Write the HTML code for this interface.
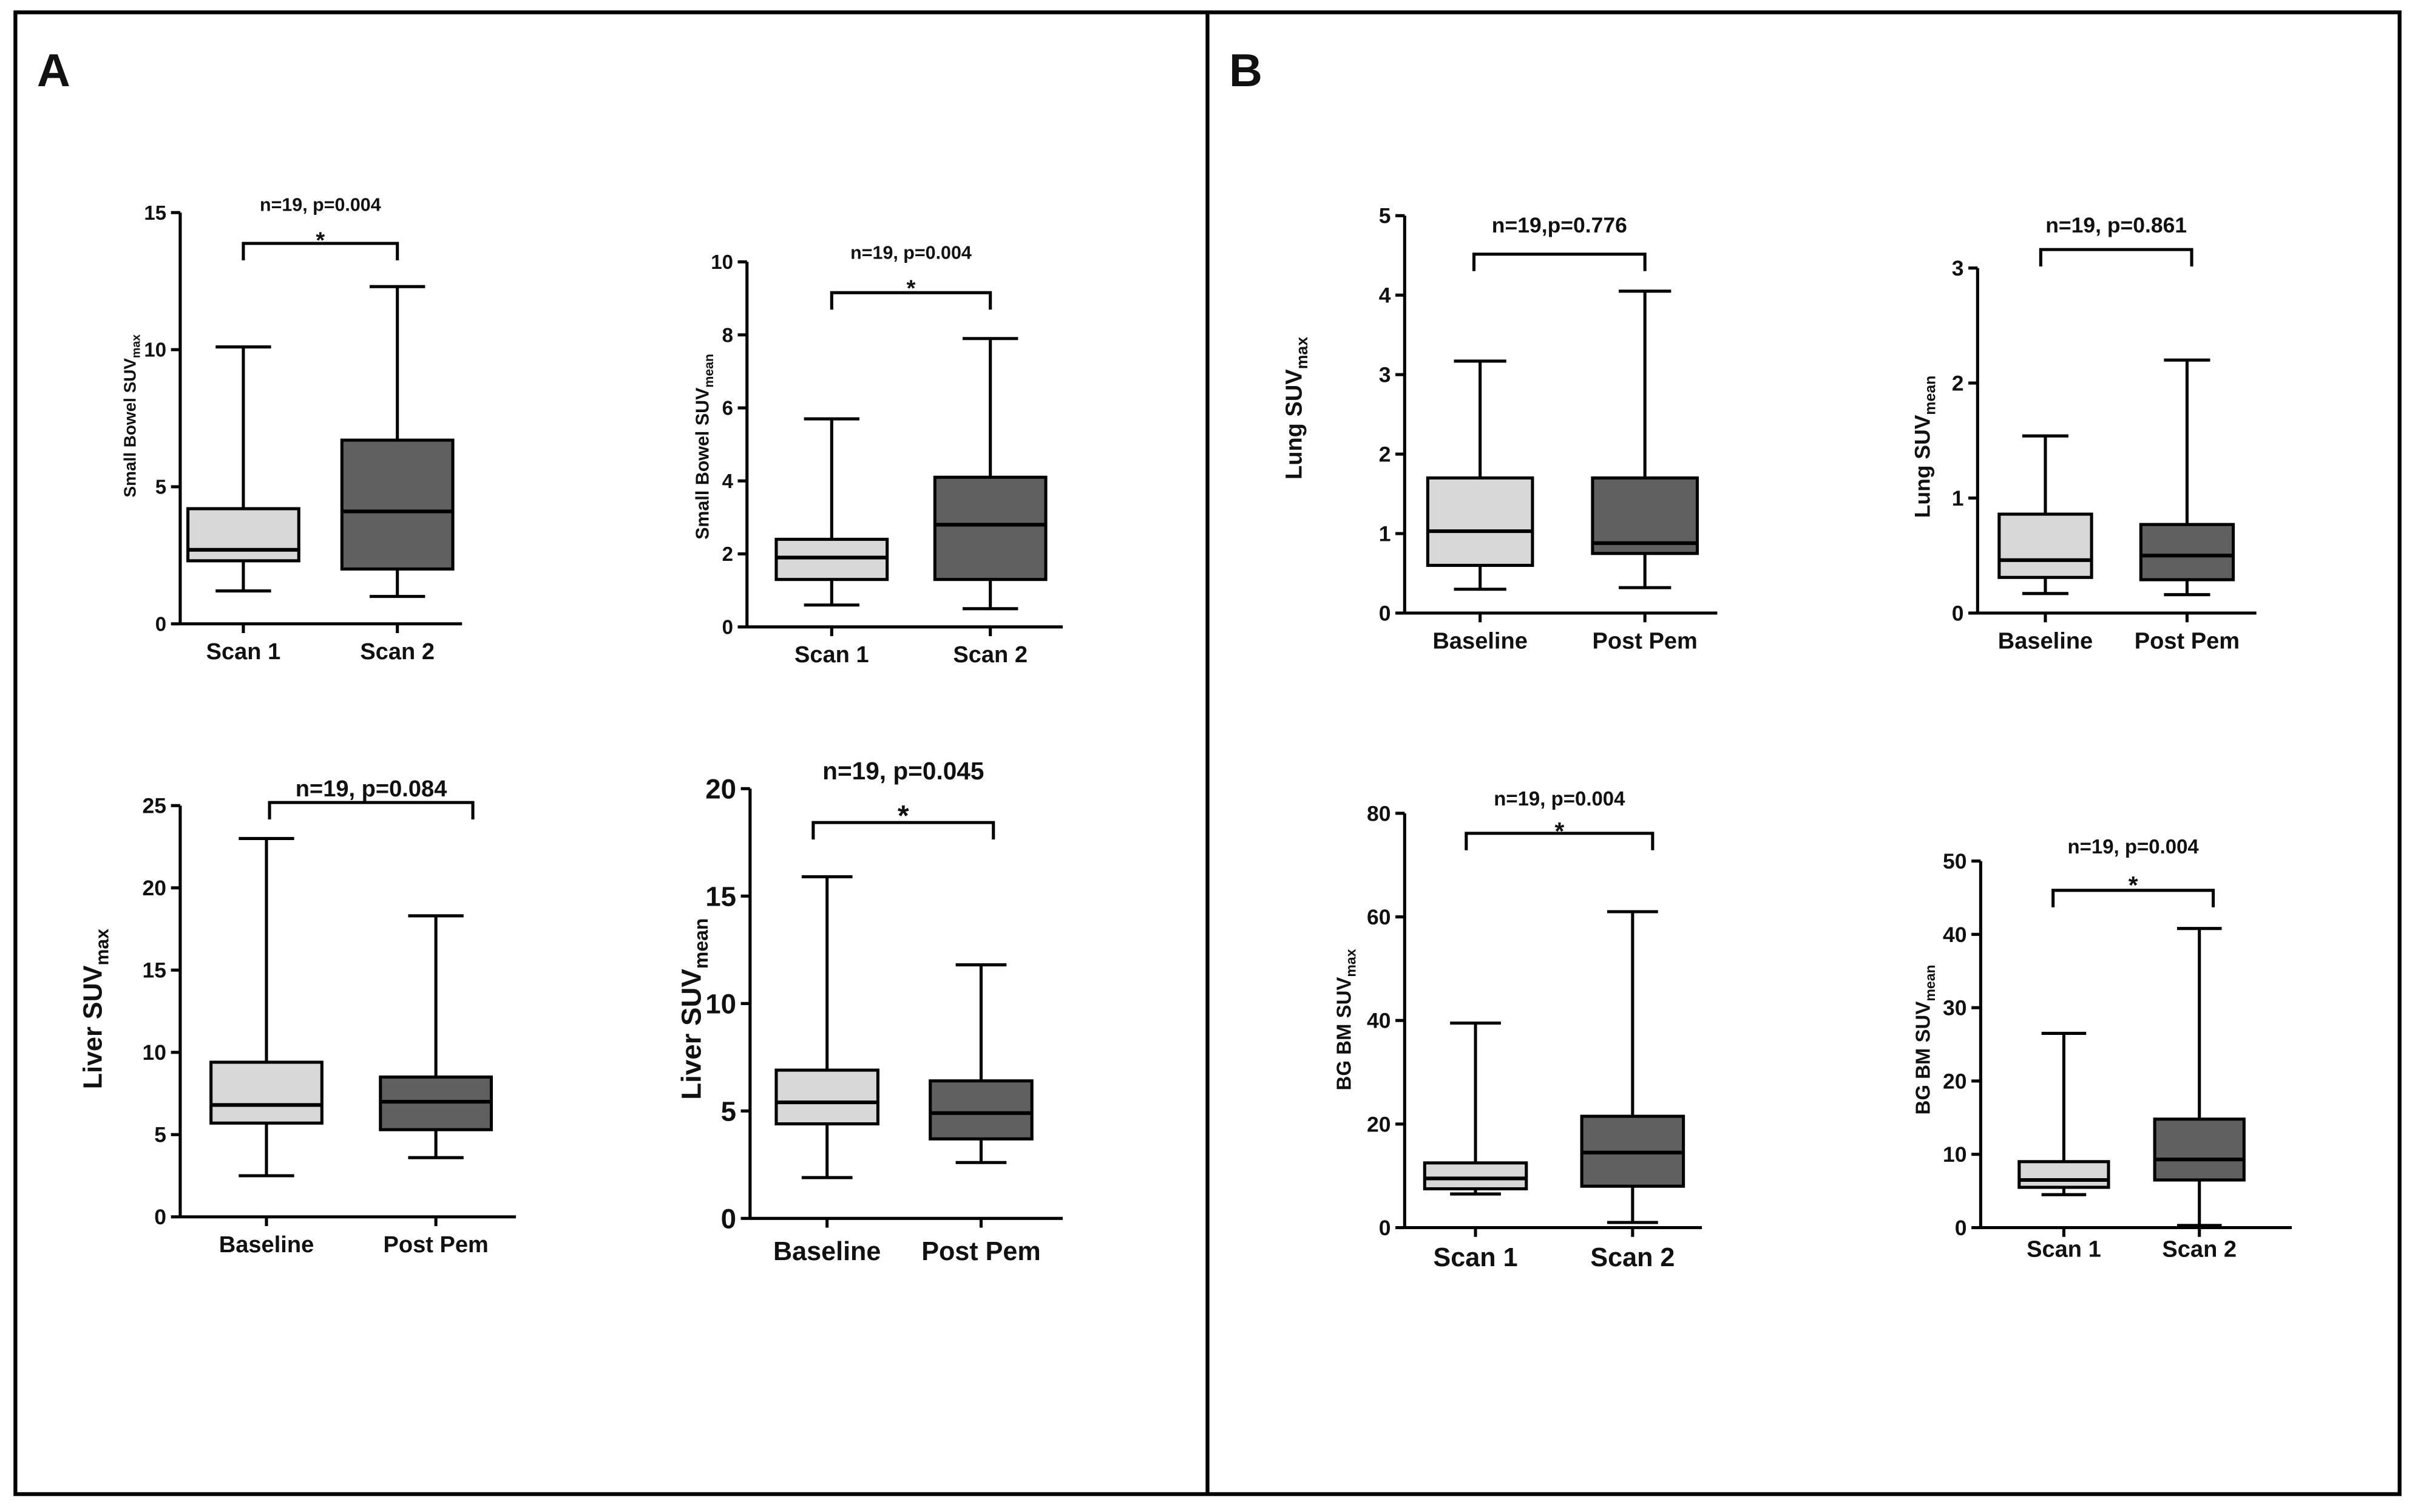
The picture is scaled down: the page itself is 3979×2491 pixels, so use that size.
<!DOCTYPE html>
<html><head><meta charset="utf-8">
<style>
html,body{margin:0;padding:0;background:#fff;}
svg{display:block;}
text{font-family:"Liberation Sans",sans-serif;font-weight:bold;fill:#111;}
</style></head>
<body>
<svg id="fig" width="3979" height="2491" viewBox="0 0 1568 981.6" xmlns="http://www.w3.org/2000/svg">
<rect x="10" y="8" width="1548" height="962" fill="none" stroke="#000" stroke-width="2.5"/>
<line x1="784" y1="8" x2="784" y2="970" stroke="#000" stroke-width="2.5"/>
<text x="24" y="56" font-size="30">A</text>
<text x="798" y="56" font-size="30">B</text>
</svg>
<script>
// ---- data ----
const chartNames = ["small-bowel-suvmax","small-bowel-suvmean","liver-suvmax","liver-suvmean","lung-suvmax","lung-suvmean","bgbm-suvmax","bgbm-suvmean"];
const yTitles = ["Small Bowel SUV|max","Small Bowel SUV|mean","Liver SUV|max","Liver SUV|mean","Lung SUV|max","Lung SUV|mean","BG BM SUV|max","BG BM SUV|mean"];
const categories = [["Scan 1","Scan 2"],["Scan 1","Scan 2"],["Baseline","Post Pem"],["Baseline","Post Pem"],["Baseline","Post Pem"],["Baseline","Post Pem"],["Scan 1","Scan 2"],["Scan 1","Scan 2"]];
const yTicks = [[0,5,10,15],[0,2,4,6,8,10],[0,5,10,15,20,25],[0,5,10,15,20],[0,1,2,3,4,5],[0,1,2,3],[0,20,40,60,80],[0,10,20,30,40,50]];
// [min,q1,median,q3,max] per group
const group1Stats = [[1.2,2.3,2.7,4.2,10.1],[0.6,1.3,1.9,2.4,5.7],[2.5,5.7,6.8,9.4,23],[1.9,4.4,5.4,6.9,15.9],[0.3,0.6,1.03,1.7,3.17],[0.17,0.31,0.46,0.86,1.54],[6.5,7.5,9.5,12.5,39.5],[4.5,5.5,6.5,9,26.5]];
const group2Stats = [[1.0,2.0,4.1,6.7,12.3],[0.5,1.3,2.8,4.1,7.9],[3.6,5.3,7.0,8.5,18.3],[2.6,3.7,4.9,6.4,11.8],[0.32,0.75,0.88,1.7,4.05],[0.16,0.29,0.5,0.77,2.2],[1,8,14.5,21.5,61],[0.3,6.5,9.3,14.8,40.8]];
const annotations = ["n=19, p=0.004","n=19, p=0.004","n=19, p=0.084","n=19, p=0.045","n=19,p=0.776","n=19, p=0.861","n=19, p=0.004","n=19, p=0.004"];
const significant = [true,true,false,true,false,false,true,true];
// ---- layout (pixels) ----
const L = [
 {ax:117,y0:405,y1:138,c:[158,258],b:[158,258],w:72,xe:300,br:158,tx:137,st:153,fs:13,ts:11,tX:88,tY:270,ls:15,ly:428,as:12},
 {ax:485,y0:407,y1:170,c:[540,643],b:[540,643],w:72,xe:690,br:190,tx:168,st:184,fs:13,ts:12,tX:460,tY:290,ls:15,ly:430,as:12},
 {ax:117,y0:790,y1:523,c:[173,283],b:[175,307],w:72,xe:335,br:521,tx:517,st:0,fs:14,ts:17,tX:66,tY:655,ls:15,ly:813,as:15},
 {ax:487,y0:791,y1:512,c:[537,637],b:[528,645],w:66,xe:690,br:534,tx:506,st:528,fs:18,ts:18,tX:455,tY:655,ls:17,ly:818,as:16},
 {ax:912,y0:398,y1:140,c:[961,1068],b:[957,1068],w:68,xe:1115,br:165,tx:151,st:0,fs:14,ts:15,tX:845,tY:265,ls:15,ly:421,as:14},
 {ax:1284,y0:398,y1:174,c:[1328,1420],b:[1325,1423],w:60,xe:1465,br:162,tx:151,st:0,fs:14,ts:14,tX:1253,tY:290,ls:15,ly:421,as:14},
 {ax:912,y0:797,y1:528,c:[958,1060],b:[952,1073],w:66,xe:1105,br:541,tx:523,st:537,fs:14,ts:13,tX:877,tY:662,ls:17,ly:822,as:13},
 {ax:1286,y0:797,y1:559,c:[1340,1428],b:[1333,1437],w:58,xe:1488,br:578,tx:554,st:572,fs:14,ts:13,tX:1253,tY:675,ls:15,ly:816,as:13}
];
const NS="http://www.w3.org/2000/svg";
const svg=document.getElementById('fig');
const SW=2;
function mk(tag,attrs,parent){const e=document.createElementNS(NS,tag);for(const k in attrs)e.setAttribute(k,attrs[k]);parent.appendChild(e);return e;}
chartNames.forEach((name,i)=>{
 const l=L[i];const ticks=yTicks[i];const ymax=ticks[ticks.length-1];
 const y=v=>l.y0-(v/ymax)*(l.y0-l.y1);
 const g=mk('g',{},svg);
 
 
 const ax=mk('line',{x1:l.ax,y1:l.y1,x2:l.ax,y2:l.y0,stroke:'#000','stroke-width':SW},g);
 
 
 const xa=mk('line',{x1:l.ax,y1:l.y0,x2:l.xe,y2:l.y0,stroke:'#000','stroke-width':SW},g);
 
 
 ticks.forEach(t=>{
  mk('line',{x1:l.ax-6,y1:y(t),x2:l.ax,y2:y(t),stroke:'#000','stroke-width':SW},g);
  const tt=mk('text',{x:l.ax-9,y:y(t)+l.fs*0.35,'font-size':l.fs,'text-anchor':'end'},g);
  tt.textContent=t;
  
  
 });
 [group1Stats[i],group2Stats[i]].forEach((s,j)=>{
  const cx=l.c[j],hw=l.w/2;
  mk('line',{x1:cx,y1:l.y0,x2:cx,y2:l.y0+6,stroke:'#000','stroke-width':SW},g);
  const bg=mk('g',{},g);
  
  
  mk('line',{x1:cx,y1:y(s[0]),x2:cx,y2:y(s[1]),stroke:'#000','stroke-width':SW},bg);
  mk('line',{x1:cx,y1:y(s[3]),x2:cx,y2:y(s[4]),stroke:'#000','stroke-width':SW},bg);
  mk('line',{x1:cx-hw*0.5,y1:y(s[0]),x2:cx+hw*0.5,y2:y(s[0]),stroke:'#000','stroke-width':SW},bg);
  mk('line',{x1:cx-hw*0.5,y1:y(s[4]),x2:cx+hw*0.5,y2:y(s[4]),stroke:'#000','stroke-width':SW},bg);
  mk('rect',{x:cx-hw,y:y(s[3]),width:l.w,height:y(s[1])-y(s[3]),fill:j?'#606060':'#d8d8d8',stroke:'#000','stroke-width':SW},bg);
  mk('line',{x1:cx-hw,y1:y(s[2]),x2:cx+hw,y2:y(s[2]),stroke:'#000','stroke-width':SW+0.4},bg);
  const lb=mk('text',{x:cx,y:l.ly,'font-size':l.ls,'text-anchor':'middle'},g);
  lb.textContent=categories[i][j];
  
  
 });
 const br=mk('path',{d:`M${l.b[0]} ${l.br+11}V${l.br}H${l.b[1]}V${l.br+11}`,fill:'none',stroke:'#000','stroke-width':SW},g);
 
 
 const an=mk('text',{x:(l.b[0]+l.b[1])/2,y:l.tx,'font-size':l.as,'text-anchor':'middle'},g);
 an.textContent=annotations[i];
 
 
 if(significant[i]){
  const st=mk('text',{x:(l.b[0]+l.b[1])/2,y:l.st+8,'font-size':l.as+3,'text-anchor':'middle'},g);
  st.textContent='*';
  
  
 }
 const parts=yTitles[i].split('|');
 const yt=mk('text',{x:0,y:0,'font-size':l.ts,'text-anchor':'middle',transform:`translate(${l.tX},${l.tY}) rotate(-90)`},g);
 
 
 const a=mk('tspan',{},yt);a.textContent=parts[0];
 const b=mk('tspan',{'font-size':l.ts*0.7,dy:l.ts*0.25},yt);b.textContent=parts[1];
});
</script>
</body></html>
